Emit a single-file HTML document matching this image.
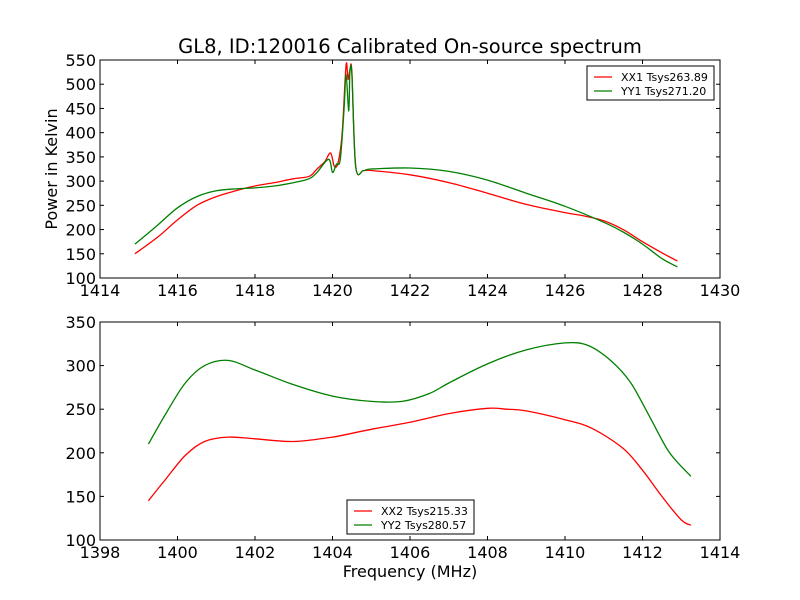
<!DOCTYPE html>
<html><head><meta charset="utf-8"><style>
body{margin:0;background:#fff;}
svg{display:block;font-family:"DejaVu Sans","Liberation Sans",sans-serif;}
</style></head><body>
<svg id="c" width="800" height="600"></svg>
<script>
const topXX1=[[1414.9,150],[1415.5,185],[1416,220],[1416.5,250],[1417,268],[1417.5,280],[1418,290],[1418.5,297],[1419,305],[1419.4,310],[1419.6,325],[1419.8,340],[1419.95,358],[1420.05,330],[1420.15,340],[1420.25,400],[1420.35,540],[1420.4,510],[1420.45,530],[1420.5,525],[1420.6,330],[1420.8,322],[1421,322],[1422,313],[1423,297],[1424,275],[1425,252],[1426,235],[1426.5,228],[1427,218],[1427.5,200],[1428,175],[1428.5,152],[1428.9,135]];
const topYY1=[[1414.9,170],[1415.5,210],[1416,245],[1416.5,268],[1417,280],[1417.5,284],[1418,286],[1418.5,290],[1419,297],[1419.4,305],[1419.6,318],[1419.9,345],[1420.0,318],[1420.1,335],[1420.2,345],[1420.3,450],[1420.35,520],[1420.42,445],[1420.45,525],[1420.5,520],[1420.6,330],[1420.8,322],[1421,325],[1422,327],[1423,320],[1424,302],[1425,275],[1426,248],[1427,215],[1427.5,195],[1428,170],[1428.5,140],[1428.9,123]];
const botXX2=[[1399.25,145],[1399.7,170],[1400.2,197],[1400.7,213],[1401.3,218],[1402,216],[1403,213],[1404,218],[1405,227],[1406,235],[1407,245],[1408,251],[1408.5,250],[1409,248],[1410,238],[1410.7,228],[1411.5,205],[1412,180],[1412.5,150],[1413,123],[1413.25,117]];
const botYY2=[[1399.25,210],[1399.7,245],[1400.2,280],[1400.7,300],[1401.3,306],[1402,295],[1403,278],[1404,265],[1405,259],[1405.8,259],[1406.5,268],[1407,280],[1408,302],[1409,318],[1410,326],[1410.6,323],[1411.2,305],[1411.7,280],[1412.2,240],[1412.7,200],[1413.25,173]];
const topXTicks=[1414,1416,1418,1420,1422,1424,1426,1428,1430];
const topYTicks=[100,150,200,250,300,350,400,450,500,550];
const botXTicks=[1398,1400,1402,1404,1406,1408,1410,1412,1414];
const botYTicks=[100,150,200,250,300,350];

const NS="http://www.w3.org/2000/svg";
const svg=document.getElementById('c');
function el(t,a,p){const e=document.createElementNS(NS,t);for(const k in a)e.setAttribute(k,a[k]);(p||svg).appendChild(e);return e;}
function txt(s,a,name){const e=el('text',a);e.textContent=s;


return e;}
function smooth(pts){
  let d='M'+pts[0][0].toFixed(1)+','+pts[0][1].toFixed(1);
  for(let i=0;i<pts.length-1;i++){
    const p0=pts[Math.max(0,i-1)],p1=pts[i],p2=pts[i+1],p3=pts[Math.min(pts.length-1,i+2)];
    const k=1/6;
    const c1x=p1[0]+(p2[0]-p0[0])*k,c1y=p1[1]+(p2[1]-p0[1])*k;
    const c2x=p2[0]-(p3[0]-p1[0])*k,c2y=p2[1]-(p3[1]-p1[1])*k;
    d+=' C'+c1x.toFixed(1)+','+c1y.toFixed(1)+' '+c2x.toFixed(1)+','+c2y.toFixed(1)+' '+p2[0].toFixed(1)+','+p2[1].toFixed(1);
  }
  return d;
}

function panel(o){
  const sx=v=>o.x0+(v-o.xmin)/(o.xmax-o.xmin)*(o.x1-o.x0);
  const sy=v=>o.y1-(v-o.ymin)/(o.ymax-o.ymin)*(o.y1-o.y0);
  const g=el('g',{});
  
  
  o.series.forEach(s=>{
    const p=el('path',{d:smooth(s.d.map(q=>[sx(q[0]),sy(q[1])])),fill:'none',stroke:s.c,'stroke-width':1.3},g);
    
    
  });
  const f=el('rect',{x:o.x0,y:o.y0,width:o.x1-o.x0,height:o.y1-o.y0,fill:'none',stroke:'#000','stroke-width':1},g);
  
  
  o.xt.forEach(v=>{const x=sx(v);
    el('line',{x1:x,x2:x,y1:o.y1,y2:o.y1-4,stroke:'#000'},g);
    el('line',{x1:x,x2:x,y1:o.y0,y2:o.y0+4,stroke:'#000'},g);
    txt(v,{x:x,y:o.y1+18,'text-anchor':'middle','font-size':16},'x-tick-label');});
  o.yt.forEach(v=>{const y=sy(v);
    el('line',{x1:o.x0,x2:o.x0+4,y1:y,y2:y,stroke:'#000'},g);
    el('line',{x1:o.x1,x2:o.x1-4,y1:y,y2:y,stroke:'#000'},g);
    txt(v,{x:o.x0-4,y:y+6,'text-anchor':'end','font-size':16},'y-tick-label');});
  const L=o.leg;
  const lg=el('g',{});
  
  
  el('rect',{x:L.x,y:L.y,width:L.w,height:34,fill:'#fff',stroke:'#000'},lg);
  o.series.forEach((s,i)=>{const y=L.y+11+i*14;
    el('line',{x1:L.x+7,x2:L.x+25,y1:y,y2:y,stroke:s.c,'stroke-width':1.2},lg);
    const t=el('text',{x:L.x+34,y:y+4,'font-size':11},lg);t.textContent=s.label;
    
    
  });
}
panel({name:'top-panel',x0:100,x1:720,y0:60,y1:278,xmin:1414,xmax:1430,ymin:100,ymax:550,xt:topXTicks,yt:topYTicks,
  series:[{d:topXX1,c:'#ff0000',name:'xx1-line',label:'XX1 Tsys263.89'},{d:topYY1,c:'#008000',name:'yy1-line',label:'YY1 Tsys271.20'}],
  leg:{x:587,y:66,w:127}});
panel({name:'bottom-panel',x0:100,x1:720,y0:322,y1:540,xmin:1398,xmax:1414,ymin:100,ymax:350,xt:botXTicks,yt:botYTicks,
  series:[{d:botXX2,c:'#ff0000',name:'xx2-line',label:'XX2 Tsys215.33'},{d:botYY2,c:'#008000',name:'yy2-line',label:'YY2 Tsys280.57'}],
  leg:{x:347,y:500,w:127}});
txt('GL8, ID:120016 Calibrated On-source spectrum',{x:410,y:53,'text-anchor':'middle','font-size':19.5},'chart-title');
txt('Frequency (MHz)',{x:410,y:577,'text-anchor':'middle','font-size':16},'x-axis-title');
txt('Power in Kelvin',{x:57,y:169,'text-anchor':'middle','font-size':16,transform:'rotate(-90 57 169)'},'y-axis-title');
</script>
</body></html>
